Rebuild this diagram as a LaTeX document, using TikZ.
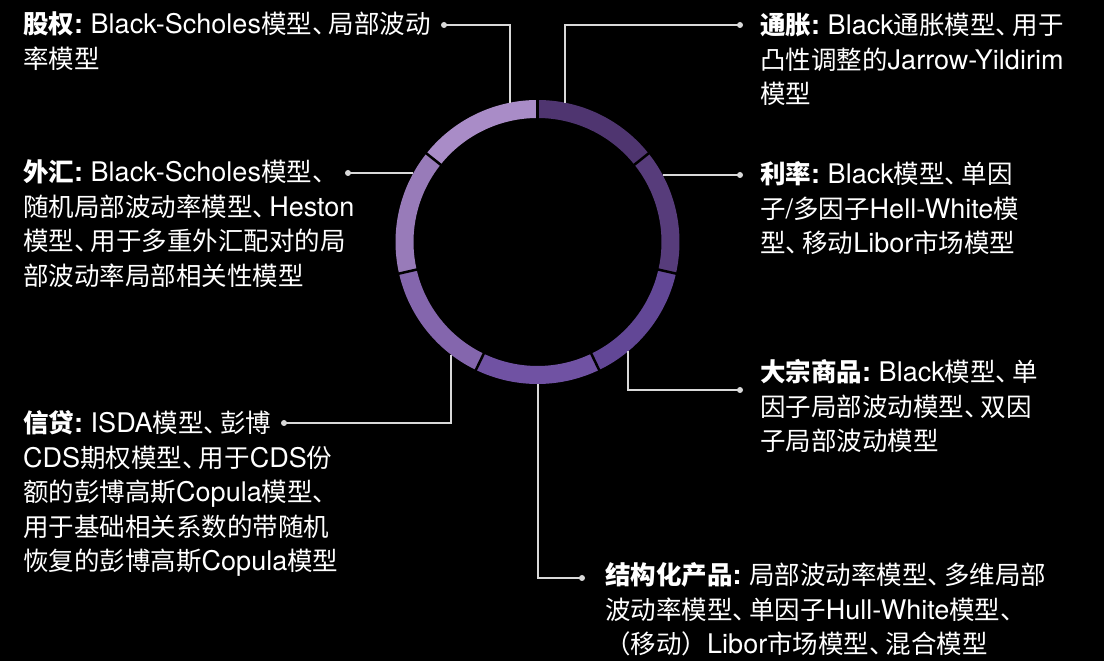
\documentclass[tikz,border=0pt]{standalone}
\usepackage{fontspec}
\setmainfont{Noto Sans CJK SC}
\newfontfamily\latf[Scale=1.06]{TeX Gyre Heros}
\newcommand\EN[1]{{\latf #1}}
\newcommand\lbl[1]{{\bfseries #1{\latf :}}{\latf\ }}
\newcommand\dn{\makebox[0.65em][l]{、}}
\definecolor{segA}{HTML}{4F3570}
\definecolor{segB}{HTML}{573C7B}
\definecolor{segC}{HTML}{624796}
\definecolor{segD}{HTML}{7052A3}
\definecolor{segE}{HTML}{8466AD}
\definecolor{segF}{HTML}{987BB9}
\definecolor{segG}{HTML}{A98CC7}
\definecolor{linegray}{HTML}{D9D9D9}
\begin{document}
\begin{tikzpicture}[x=1pt,y=1pt,
  txt/.style={text=white, align=left, inner sep=0pt, anchor=base west,
    font=\fontsize{25.5}{34.5}\selectfont},
  conn/.style={draw=linegray, line width=1.3pt},
  dotmark/.style={fill=linegray}]
\useasboundingbox (0,0) rectangle (1104,661);
\fill[black] (0,0) rectangle (1104,661);
\coordinate (c) at (537.5,419);
% ring segments
\begin{scope}[shift={(c)}]
\foreach \i/\col in {0/segA,1/segB,2/segC,3/segD,4/segE,5/segF,6/segG}{
  \pgfmathsetmacro\aa{90-\i*360/7}
  \pgfmathsetmacro\ab{90-(\i+1)*360/7}
  \fill[\col] (\aa:142) arc[start angle=\aa, end angle=\ab, radius=142]
     -- (\ab:124) arc[start angle=\ab, end angle=\aa, radius=124] -- cycle;
}
\foreach \i in {0,...,6}{
  \pgfmathsetmacro\aa{90-\i*360/7}
  \draw[black, line width=2.5pt] (\aa:121) -- (\aa:145);
}
\end{scope}
% texts (anchor = baseline of last line)
\node[txt] (equity) at (23,592.5) {\lbl{股权}\EN{Black-Scholes}模型\dn 局部波动\\率模型};
\node[txt] (infl) at (760,557) {\lbl{通胀}\EN{Black}通胀模型\dn 用于\\凸性调整的\EN{Jarrow-Yildirim}\\模型};
\node[txt] (fx) at (23,375.5) {\lbl{外汇}\EN{Black-Scholes}模型\dn\\随机局部波动率模型\dn\EN{Heston}\\模型\dn 用于多重外汇配对的局\\部波动率局部相关性模型};
\node[txt] (rates) at (760,408) {\lbl{利率}\EN{Black}模型\dn 单因\\子\EN{/}多因子\EN{Hell-White}模\\型\dn 移动\EN{Libor}市场模型};
\node[txt] (comm) at (760,210) {\lbl{大宗商品}\EN{Black}模型\dn 单\\因子局部波动模型\dn 双因\\子局部波动模型};
\node[txt] (credit) at (23,90) {\lbl{信贷}\EN{ISDA}模型\dn 彭博\\\EN{CDS}期权模型\dn 用于\EN{CDS}份\\额的彭博高斯\EN{Copula}模型\dn\\用于基础相关系数的带随机\\恢复的彭博高斯\EN{Copula}模型};
\node[txt] (struct) at (605,7) {\lbl{结构化产品}局部波动率模型\dn 多维局部\\波动率模型\dn 单因子\EN{Hull-White}模型\dn\\（移动）\EN{Libor}市场模型\dn 混合模型};
% ring attach points
\coordinate (r1) at (510,558.3);
\coordinate (r2) at (565,558.3);
\coordinate (r3) at (413.4,488);
\coordinate (r4) at (662.7,486);
\coordinate (r5) at (628,309.6);
\coordinate (r6) at (451,306.4);
\coordinate (r7) at (538,277);
% dot points
\coordinate (d1) at (444,636);
\coordinate (d2) at (740,636);
\coordinate (d3) at (348,488);
\coordinate (d4) at (740,486);
\coordinate (d5) at (740,271);
\coordinate (d6) at (284,238);
\coordinate (d7) at (582,83);
% connectors
\draw[conn] (r1) |- (d1);
\draw[conn] (r2) |- (d2);
\draw[conn] (r3) -- (d3);
\draw[conn] (r4) -- (d4);
\draw[conn] (r5) |- (d5);
\draw[conn] (r6) |- (d6);
\draw[conn] (r7) |- (d7);
\foreach \d in {d1,d2,d3,d4,d5,d6,d7}{\fill[dotmark] (\d) circle (3pt);}
\end{tikzpicture}
\end{document}
